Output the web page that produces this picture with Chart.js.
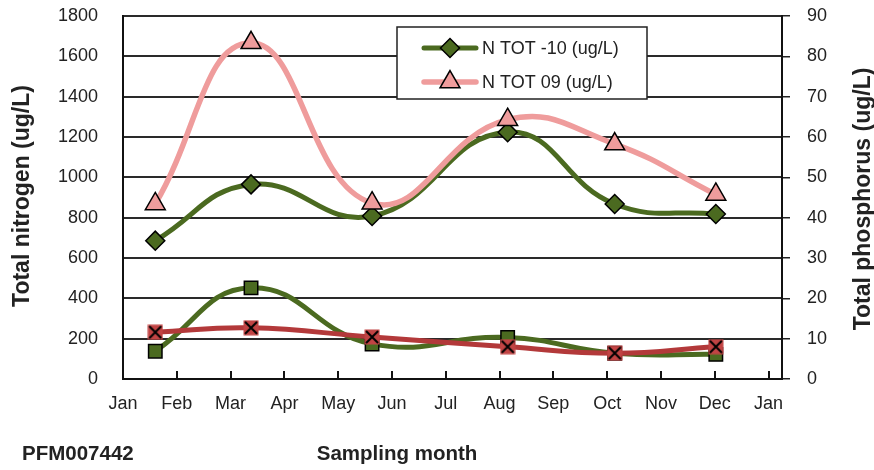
<!DOCTYPE html>
<html>
<head>
<meta charset="utf-8">
<script src="https://cdn.jsdelivr.net/npm/chart.js@4/dist/chart.umd.min.js"></script>
<style>
  body { margin: 0; background: #fff; }
  #wrap { width: 874px; height: 470px; }
</style>
</head>
<body>
<div id="wrap"><canvas id="chart" width="874" height="470"></canvas></div>
<script>
// sampling dates as month offsets from 1 Jan (0 = Jan, 12 = next Jan)
const sampleMonth = [0.6, 2.38, 4.63, 7.15, 9.14, 11.02];

// nitrogen, ug/L (left axis)
const nTot10 = [686, 965, 808, 1224, 868, 818];
const nTot09 = [868, 1667, 872, 1286, 1165, 915];

// phosphorus, ug/L (right axis)
const pTot10 = [6.9, 22.6, 8.7, 10.3, 6.4, 6.1];
const pTot09 = [11.6, 12.7, 10.4, 8.0, 6.4, 8.0];

const monthTicks = [0, 1, 2, 3, 4, 5, 6, 7, 8, 9, 10, 11, 12];
const monthLabels = ['Jan', 'Feb', 'Mar', 'Apr', 'May', 'Jun', 'Jul', 'Aug', 'Sep', 'Oct', 'Nov', 'Dec', 'Jan'];

const GREEN = '#4b6a20';
const PINK = '#ef9c9c';
const RED = '#b3393a';
const FONT = '"Liberation Sans", Arial, sans-serif';

const pts = (vals) => sampleMonth.map((m, i) => ({ x: m, y: vals[i] }));

// red square with a black cross, used for the P TOT 09 markers
const crossMark = (() => {
  const c = document.createElement('canvas');
  c.width = 16; c.height = 16;
  const g = c.getContext('2d');
  g.fillStyle = '#c24444';
  g.fillRect(0.5, 0.5, 15, 15);
  g.strokeStyle = '#000';
  g.lineWidth = 2;
  g.beginPath();
  g.moveTo(2, 2); g.lineTo(14, 14);
  g.moveTo(14, 2); g.lineTo(2, 14);
  g.stroke();
  return c;
})();

// month tick marks pointing up into the plot
const innerTicks = {
  id: 'innerTicks',
  beforeDatasetsDraw(chart) {
    const { ctx, scales: { x } } = chart;
    const bottom = chart.chartArea.bottom;
    ctx.save();
    ctx.strokeStyle = '#111';
    ctx.lineWidth = 2;
    ctx.beginPath();
    monthTicks.forEach(v => {
      if (v === 0) return;
      const px = Math.round(x.getPixelForValue(v));
      ctx.moveTo(px, bottom);
      ctx.lineTo(px, bottom - 8);
    });
    ctx.stroke();
    ctx.restore();
  }
};

// boxed legend inside the plot, nitrogen series only
const boxLegend = {
  id: 'boxLegend',
  afterDatasetsDraw(chart) {
    const ctx = chart.ctx;
    const box = { x: 397, y: 27, w: 250, h: 72 };
    ctx.save();
    ctx.fillStyle = '#fff';
    ctx.fillRect(box.x, box.y, box.w, box.h);
    ctx.strokeStyle = '#222';
    ctx.lineWidth = 1.5;
    ctx.strokeRect(box.x, box.y, box.w, box.h);
    [0, 1].forEach((di, row) => {
      const ds = chart.data.datasets[di];
      const y = 48 + row * 34;
      ctx.strokeStyle = ds.borderColor;
      ctx.lineWidth = ds.borderWidth;
      ctx.lineCap = 'round';
      ctx.beginPath();
      ctx.moveTo(424, y);
      ctx.lineTo(476, y);
      ctx.stroke();
      ctx.fillStyle = ds.pointBackgroundColor;
      ctx.strokeStyle = ds.pointBorderColor;
      ctx.lineWidth = ds.pointBorderWidth;
      Chart.helpers.drawPoint(ctx, {
        pointStyle: ds.pointStyle, radius: ds.pointRadius,
        borderWidth: ds.pointBorderWidth, rotation: 0
      }, 450, y);
      ctx.fillStyle = '#222';
      ctx.font = '18px ' + FONT;
      ctx.textBaseline = 'middle';
      ctx.textAlign = 'left';
      ctx.fillText(ds.label, 482, y + 1);
    });
    ctx.restore();
  }
};

// axis titles and the site code
const titles = {
  id: 'titles',
  afterDraw(chart) {
    const ctx = chart.ctx;
    ctx.save();
    ctx.fillStyle = '#222';
    ctx.font = 'bold 23px ' + FONT;
    ctx.textAlign = 'center';
    ctx.textBaseline = 'middle';
    ctx.save();
    ctx.translate(23, 196);
    ctx.rotate(-Math.PI / 2);
    ctx.fillText('Total nitrogen (ug/L)', 0, 0);
    ctx.restore();
    ctx.save();
    ctx.translate(864, 199);
    ctx.rotate(-Math.PI / 2);
    ctx.fillText('Total phosphorus (ug/L)', 0, 0);
    ctx.restore();
    ctx.font = 'bold 20.5px ' + FONT;
    ctx.fillText('Sampling month', 397, 454);
    ctx.textAlign = 'left';
    ctx.fillText('PFM007442', 22, 454);
    ctx.restore();
  }
};

const tickFont = { family: FONT, size: 18 };

// keep the plot box fixed: no extra room for labels hanging past the ends
const noEdgePad = (scale) => {
  scale.paddingTop = 0;
  scale.paddingBottom = 0;
  scale.paddingLeft = 0;
  scale.paddingRight = 0;
};

new Chart(document.getElementById('chart'), {
  type: 'line',
  data: {
    datasets: [
      {
        label: 'N TOT -10 (ug/L)',
        data: pts(nTot10),
        yAxisID: 'yN',
        borderColor: GREEN,
        borderWidth: 5,
        pointStyle: 'rectRot',
        pointRadius: 9.5,
        pointBackgroundColor: GREEN,
        pointBorderColor: '#000',
        pointBorderWidth: 1.5,
        tension: 0.45,
        order: 2
      },
      {
        label: 'N TOT 09 (ug/L)',
        data: pts(nTot09),
        yAxisID: 'yN',
        borderColor: PINK,
        borderWidth: 5.5,
        pointStyle: 'triangle',
        pointRadius: 11.5,
        pointBackgroundColor: PINK,
        pointBorderColor: '#000',
        pointBorderWidth: 1.5,
        tension: 0.45,
        order: 1
      },
      {
        label: 'P TOT -10 (ug/L)',
        data: pts(pTot10),
        yAxisID: 'yP',
        borderColor: GREEN,
        borderWidth: 5,
        pointStyle: 'rect',
        pointRadius: 9.5,
        pointBackgroundColor: GREEN,
        pointBorderColor: '#000',
        pointBorderWidth: 1.5,
        tension: 0.45,
        order: 4
      },
      {
        label: 'P TOT 09 (ug/L)',
        data: pts(pTot09),
        yAxisID: 'yP',
        borderColor: RED,
        borderWidth: 5,
        pointStyle: crossMark,
        pointRadius: 8,
        tension: 0.45,
        order: 3
      }
    ]
  },
  options: {
    responsive: false,
    animation: false,
    devicePixelRatio: 1,
    layout: { padding: { top: 16, left: 0, right: 0, bottom: 0 } },
    plugins: {
      legend: { display: false },
      tooltip: { enabled: false }
    },
    scales: {
      x: {
        type: 'linear',
        min: 0,
        max: 12.25,
        afterBuildTicks: (scale) => { scale.ticks = monthTicks.map(v => ({ value: v })); },
        afterFit: (scale) => { scale.height = 91; noEdgePad(scale); },
        grid: { display: false, drawTicks: false },
        border: { display: true, color: '#111', width: 2 },
        ticks: {
          autoSkip: false,
          maxRotation: 0,
          padding: 14,
          color: '#222',
          font: tickFont,
          callback: (v, i) => monthLabels[i]
        }
      },
      yN: {
        position: 'left',
        min: 0,
        max: 1800,
        afterFit: (scale) => { scale.width = 123; noEdgePad(scale); },
        grid: { color: '#2a2a2a', lineWidth: 2, drawTicks: false },
        border: { display: true, color: '#111', width: 2 },
        ticks: { stepSize: 200, padding: 25, color: '#222', font: tickFont, callback: (v) => String(v) }
      },
      yP: {
        position: 'right',
        min: 0,
        max: 90,
        afterFit: (scale) => { scale.width = 92; noEdgePad(scale); },
        grid: { drawOnChartArea: false, drawTicks: true, tickLength: 8, color: '#222', lineWidth: 1.5 },
        border: { display: true, color: '#111', width: 2 },
        ticks: { stepSize: 10, padding: 17, color: '#222', font: tickFont, callback: (v) => String(v) }
      }
    }
  },
  plugins: [innerTicks, boxLegend, titles]
});
</script>
</body>
</html>
